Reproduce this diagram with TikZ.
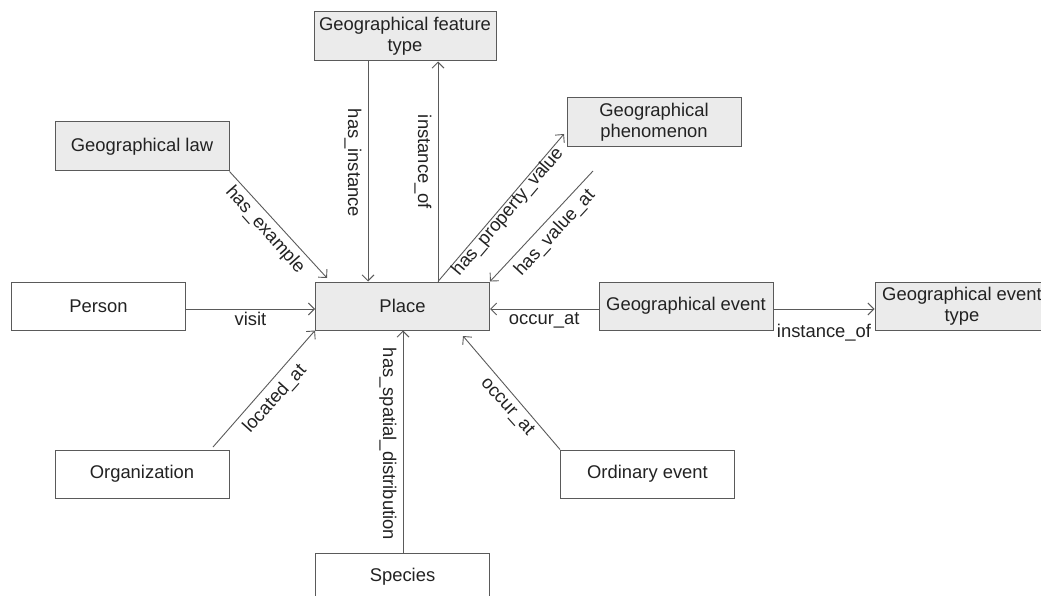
\documentclass[tikz,border=0pt]{standalone}
\usepackage{fontspec}
\setmainfont{Liberation Sans}
\usetikzlibrary{arrows.meta}
\definecolor{linec}{HTML}{5A5A5A}
\definecolor{txt}{HTML}{222222}
\definecolor{boxfill}{HTML}{EBEBEB}
\begin{document}
\begin{tikzpicture}[x=1pt,y=-1pt,
  box/.style={draw=linec, line width=1pt, minimum width=174pt, minimum height=48pt, inner sep=0pt, text=txt, align=center, font=\fontsize{18.4}{21}\selectfont},
  gbox/.style={box, fill=boxfill},
  arr/.style={draw=linec, line width=0.9pt, -{Straight Barb[length=6pt,width=12pt]}},
  lab/.style={text=txt, inner sep=1pt, font=\fontsize{18.4}{21}\selectfont}]
\clip (0,0) rectangle (1041,596);
% nodes
\node[gbox] (place) at (402.5,306) {Place};
\node[gbox, minimum width=182pt, minimum height=49pt] (feat) at (405,36.5) {Geographical feature\\type};
\node[gbox, minimum height=49pt] (law) at (142,146.5) {Geographical law};
\node[gbox, minimum height=49pt] (phen) at (654,122.5) {Geographical\\phenomenon};
\node[gbox] (gevent) at (686,306) {Geographical event};
\node[gbox] (gtype) at (962,306) {Geographical event\\type};
\node[box] (person) at (98.5,306) {Person};
\node[box] (org) at (142,474) {Organization};
\node[box] (ord) at (647.5,474) {Ordinary event};
\node[box] (species) at (402.5,577) {Species};
% free ends
\coordinate (pex) at (327,278);
\coordinate (ppv) at (564,134);
\coordinate (hva) at (593,171);
\coordinate (loc) at (213,447);
\coordinate (oce) at (463,336);
% connectors
\draw[arr] (368,0 |- feat.south) -- (368,0 |- place.north)
  node[lab, rotate=-90] at (353,163) {has\_instance};
\draw[arr] (438,0 |- place.north) -- (438,0 |- feat.south)
  node[lab, rotate=-90] at (423,162) {instance\_of};
\draw[arr] (law.south east) -- (pex)
  node[lab, rotate=-48.4] at (265,230) {has\_example};
\draw[arr] (438,0 |- place.north) -- (ppv)
  node[lab, rotate=49.8] at (508,212) {has\_property\_value};
\draw[arr] (hva) -- (place.north east)
  node[lab, rotate=47.4] at (555,233) {has\_value\_at};
\draw[arr] ([yshift=-3pt]person.east) -- ([yshift=-3pt]place.west)
  node[lab, midway, below=2pt] {visit};
\draw[arr] ([yshift=-3pt]gevent.west) -- ([yshift=-3pt]place.east)
  node[lab, midway, below=2pt] {occur\_at};
\draw[arr] ([yshift=-3pt]gevent.east) -- ([yshift=-3pt]gtype.west)
  node[lab, midway, below=14pt] {instance\_of};
\draw[arr] (loc) -- (place.south west)
  node[lab, rotate=48.1] at (275,399) {located\_at};
\draw[arr] (ord.north west) -- (oce)
  node[lab, rotate=-48] at (507,407) {occur\_at};
\draw[arr] (403,0 |- species.north) -- (403,0 |- place.south)
  node[lab, rotate=-90] at (388,444) {has\_spatial\_distribution};
\end{tikzpicture}
\end{document}
